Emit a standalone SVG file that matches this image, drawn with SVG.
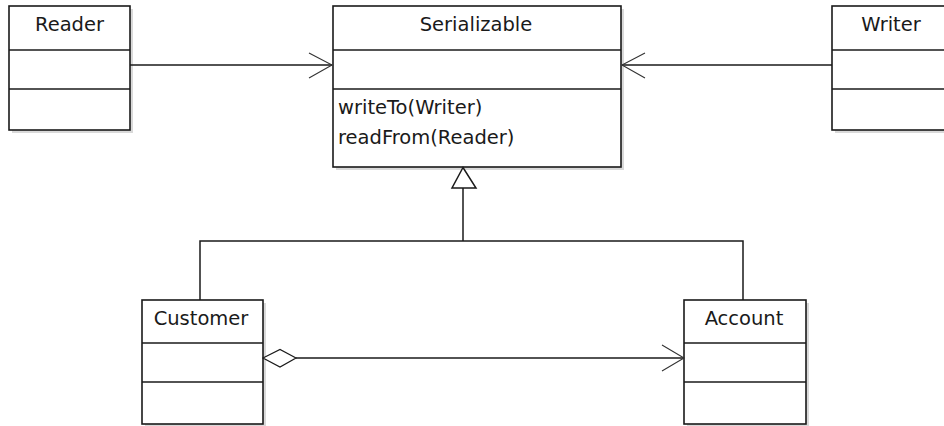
<svg xmlns="http://www.w3.org/2000/svg" width="944" height="426" viewBox="0 0 944 426">
<style>
.shadow{fill:#d9d9d9}
.box{fill:#fff;stroke:#1a1a1a;stroke-width:1.6}
.div{stroke:#1a1a1a;stroke-width:1.6}
.t{font-family:"DejaVu Sans",Verdana,sans-serif;font-size:19.5px;fill:#1a1a1a}
.c{text-anchor:middle}
.ln{fill:none;stroke:#1a1a1a;stroke-width:1.5}
.ah{fill:none;stroke:#333;stroke-width:1.1}
</style>
<rect width="944" height="426" fill="#fff"/>
<g id="reader">
<rect class="shadow" x="12" y="9" width="121" height="124"/>
<rect class="box" x="9" y="6" width="121" height="124"/>
<line class="div" x1="9" y1="50" x2="130" y2="50"/>
<line class="div" x1="9" y1="89" x2="130" y2="89"/>
<text class="t c" x="69.5" y="31">Reader</text>
</g>
<g id="serializable">
<rect class="shadow" x="336" y="9" width="288" height="161"/>
<rect class="box" x="333" y="6" width="288" height="161"/>
<line class="div" x1="333" y1="50" x2="621" y2="50"/>
<line class="div" x1="333" y1="89" x2="621" y2="89"/>
<text class="t c" x="476" y="31">Serializable</text>
<text class="t" x="338" y="114">writeTo(Writer)</text>
<text class="t" x="338" y="144">readFrom(Reader)</text>
</g>
<g id="writer">
<rect class="shadow" x="835" y="9" width="121" height="124"/>
<rect class="box" x="832" y="6" width="121" height="124"/>
<line class="div" x1="832" y1="50" x2="953" y2="50"/>
<line class="div" x1="832" y1="89" x2="953" y2="89"/>
<text class="t c" x="891" y="31">Writer</text>
</g>
<g id="customer">
<rect class="shadow" x="145" y="303" width="121" height="124"/>
<rect class="box" x="142" y="300" width="121" height="124"/>
<line class="div" x1="142" y1="343" x2="263" y2="343"/>
<line class="div" x1="142" y1="382" x2="263" y2="382"/>
<text class="t c" x="201" y="325">Customer</text>
</g>
<g id="account">
<rect class="shadow" x="687" y="303" width="122" height="124"/>
<rect class="box" x="684" y="300" width="122" height="124"/>
<line class="div" x1="684" y1="343" x2="806" y2="343"/>
<line class="div" x1="684" y1="382" x2="806" y2="382"/>
<text class="t c" x="744" y="325">Account</text>
</g>
<g id="connectors">
<line class="ln" x1="130" y1="65" x2="332" y2="65"/>
<polyline class="ah" points="309,53 332,65 309,78"/>
<line class="ln" x1="832" y1="65" x2="622" y2="65"/>
<polyline class="ah" points="645,53 622,65 645,78"/>
<polygon points="463,167.5 452,188 476,188" fill="#fff" stroke="#1a1a1a" stroke-width="1.5"/>
<polyline class="ln" points="463,188 463,241"/>
<polyline class="ln" points="200,300 200,241 743,241 743,300"/>
<polygon points="263,358 280,349.5 296,358 280,367" fill="#fff" stroke="#1a1a1a" stroke-width="1.2"/>
<line class="ln" x1="296" y1="358" x2="684" y2="358"/>
<polyline class="ah" points="662,345 684,358 662,371"/>
</g>
</svg>
